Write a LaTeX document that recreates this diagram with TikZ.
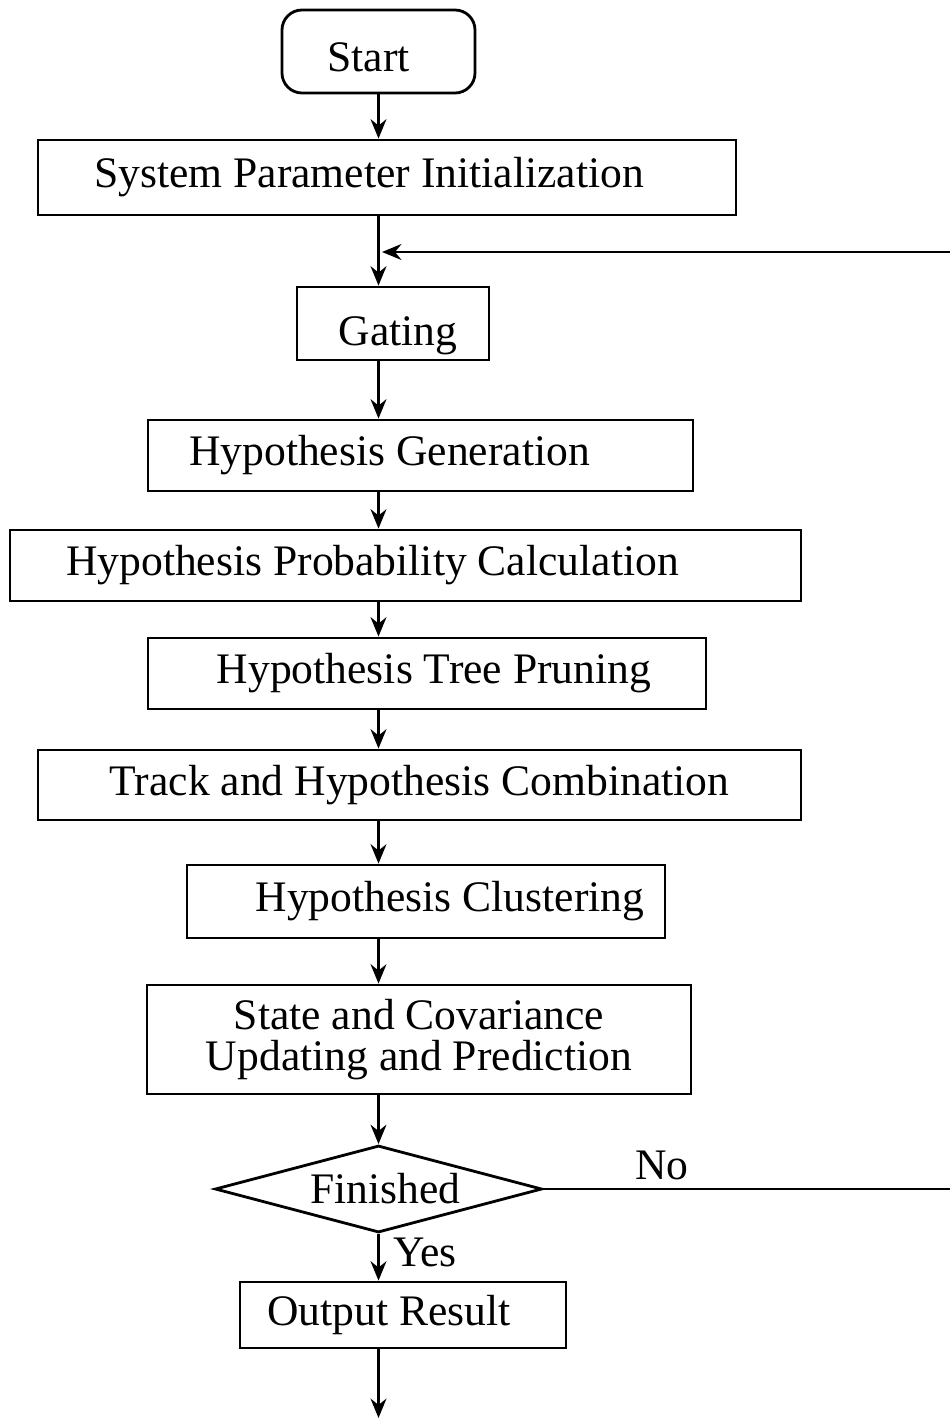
\documentclass[tikz,border=0pt]{standalone}
\usepackage{fontspec}
\setmainfont{Liberation Serif}
\usetikzlibrary{arrows.meta,shapes.geometric}

\begin{document}
\begin{tikzpicture}[x=1cm,y=1cm,
  box/.style={draw,line width=0.8pt,inner sep=0pt,
    font=\fontsize{12.4}{11.5}\selectfont},
  tx/.style={execute at begin node={\hspace*{#1}}},
  arr/.style={line width=0.8pt,-{Stealth[length=5.5pt,width=4.5pt]}},
  lbl/.style={font=\fontsize{12.4}{11.5}\selectfont}]
  \useasboundingbox (0,0) rectangle (9.49,-14.18);
  \node (start) at (3.785,-0.515) [box,tx=-0.2cm,text height=11.5pt,rounded corners=0.2cm,minimum width=1.93cm,minimum height=0.83cm] {Start};
  \node (sys) at (3.87,-1.775) [box,tx=-0.36cm,minimum width=6.98cm,minimum height=0.75cm] {System Parameter Initialization};
  \node (gat) at (3.93,-3.235) [box,tx=0.1cm,text height=15pt,minimum width=1.92cm,minimum height=0.73cm] {Gating};
  \node (hgen) at (4.205,-4.555) [box,tx=-0.62cm,minimum width=5.45cm,minimum height=0.71cm] {Hypothesis Generation};
  \node (hprob) at (4.055,-5.655) [box,tx=-0.66cm,minimum width=7.91cm,minimum height=0.71cm] {Hypothesis Probability Calculation};
  \node (prune) at (4.27,-6.735) [box,tx=0.14cm,minimum width=5.58cm,minimum height=0.71cm] {Hypothesis Tree Pruning};
  \node (comb) at (4.195,-7.85) [box,minimum width=7.63cm,minimum height=0.70cm] {Track and Hypothesis Combination};
  \node (clus) at (4.26,-9.015) [box,tx=0.48cm,minimum width=4.78cm,minimum height=0.73cm] {Hypothesis Clustering};
  \node (upd) at (4.19,-10.395) [box,align=center,minimum width=5.44cm,minimum height=1.09cm] {State and Covariance\\Updating and Prediction};
  \node (fin) at (3.785,-11.89) [box,tx=0.14cm,diamond,aspect=3.76,minimum width=3.27cm,minimum height=0.87cm] {Finished};
  \node (out) at (4.03,-13.15) [box,tx=-0.28cm,minimum width=3.26cm,minimum height=0.66cm] {Output Result};
  \node (no) at (6.62,-11.65) [lbl] {No};
  \node (yes) at (4.25,-12.52) [lbl] {Yes};
  \coordinate (merge) at (3.82,-2.52);
  \coordinate (rt) at (9.6,-11.89);
  \coordinate (bot) at (3.785,-14.18);
  \draw[arr] (start.south) -- (start.south |- sys.north);
  \draw[arr] (sys.south -| start) -- (gat.north -| start);
  \draw[arr] (gat.south -| start) -- (hgen.north -| start);
  \draw[arr] (hgen.south -| start) -- (hprob.north -| start);
  \draw[arr] (hprob.south -| start) -- (prune.north -| start);
  \draw[arr] (prune.south -| start) -- (comb.north -| start);
  \draw[arr] (comb.south -| start) -- (clus.north -| start);
  \draw[arr] (clus.south -| start) -- (upd.north -| start);
  \draw[arr] (upd.south -| fin) -- (fin.north);
  \draw[arr] (fin.south) -- (out.north -| fin);
  \draw[arr] (out.south -| start) -- (bot);
  \draw[arr] (fin.east) -- (rt) |- (merge);
\end{tikzpicture}
\end{document}
